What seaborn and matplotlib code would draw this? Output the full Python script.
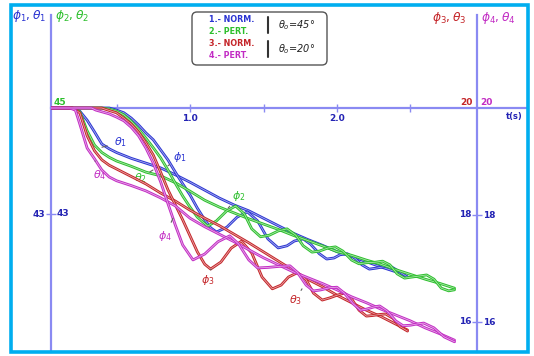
import matplotlib
matplotlib.use("Agg")
import numpy as np
import pandas as pd
import matplotlib.pyplot as plt
import matplotlib.patheffects as pe
from matplotlib.patches import FancyBboxPatch, Rectangle
from matplotlib.colors import to_rgb
import seaborn as sns

# ---------------- data (t in s, angles in degrees) ----------------
t_th1 = [0.054, 0.2, 0.25, 0.3, 0.35, 0.4, 0.45, 0.5, 0.6, 0.7, 0.8, 0.9, 1.0, 1.1, 1.2, 1.3,
         1.4, 1.5, 1.6, 1.7, 1.8, 1.9, 2.0, 2.1, 2.2, 2.3, 2.4, 2.48]
theta1 = [45.00, 45.00, 44.94, 44.77, 44.55, 44.32, 44.23, 44.16, 44.05, 43.96, 43.87, 43.74,
          43.60, 43.45, 43.30, 43.17, 43.06, 42.92, 42.78, 42.64, 42.52, 42.41, 42.29, 42.20,
          42.10, 42.00, 41.91, 41.81]

t_th2 = [0.054, 0.2, 0.25, 0.3, 0.35, 0.4, 0.45, 0.5, 0.6, 0.7, 0.8, 0.9, 1.0, 1.1, 1.2, 1.3,
         1.4, 1.5, 1.6, 1.7, 1.8, 1.9, 2.0, 2.1, 2.2, 2.3, 2.4, 2.5, 2.6, 2.7, 2.8]
theta2 = [45.00, 45.00, 44.93, 44.57, 44.30, 44.16, 44.07, 44.00, 43.90, 43.79, 43.72, 43.59,
          43.43, 43.26, 43.13, 43.02, 42.91, 42.81, 42.71, 42.60, 42.50, 42.40, 42.29, 42.22,
          42.13, 42.05, 41.95, 41.86, 41.77, 41.69, 41.60]

t_ph1 = [0.054, 0.45, 0.5, 0.55, 0.6, 0.65, 0.7, 0.75, 0.8, 0.85, 0.9, 0.95, 1.0, 1.05, 1.10,
         1.14, 1.18, 1.25, 1.32, 1.39, 1.46, 1.53, 1.60, 1.66, 1.71, 1.77, 1.82, 1.88, 1.93,
         1.98, 2.02, 2.07, 2.12, 2.17, 2.22, 2.27, 2.31, 2.36, 2.42, 2.48]
phi1 = [45.00, 45.00, 44.96, 44.91, 44.81, 44.68, 44.53, 44.40, 44.21, 44.02, 43.79, 43.57,
        43.36, 43.11, 42.89, 42.74, 42.66, 42.75, 42.94, 43.04, 42.87, 42.53, 42.36, 42.40,
        42.49, 42.53, 42.43, 42.25, 42.15, 42.17, 42.23, 42.25, 42.17, 42.04, 41.96, 41.98,
        42.00, 42.02, 41.92, 41.81]

t_ph2 = [0.054, 0.40, 0.45, 0.50, 0.55, 0.60, 0.65, 0.70, 0.75, 0.80, 0.85, 0.90, 0.95, 1.00,
         1.05, 1.12, 1.18, 1.25, 1.31, 1.37, 1.42, 1.48, 1.54, 1.60, 1.66, 1.72, 1.77, 1.83,
         1.88, 1.94, 1.99, 2.04, 2.10, 2.15, 2.20, 2.26, 2.31, 2.36, 2.41, 2.46, 2.51, 2.56,
         2.61, 2.66, 2.71, 2.76, 2.80]
phi2 = [45.00, 45.00, 44.98, 44.94, 44.87, 44.75, 44.60, 44.43, 44.25, 44.06, 43.83, 43.58,
        43.34, 43.13, 42.94, 42.77, 42.87, 43.06, 43.15, 43.00, 42.72, 42.57, 42.60, 42.68,
        42.72, 42.60, 42.40, 42.28, 42.30, 42.36, 42.38, 42.30, 42.13, 42.06, 42.08, 42.09,
        42.11, 42.04, 41.87, 41.79, 41.81, 41.83, 41.85, 41.77, 41.60, 41.55, 41.57]

t_th3 = [0.054, 0.2, 0.25, 0.3, 0.35, 0.4, 0.45, 0.5, 0.6, 0.7, 0.8, 0.9, 1.0, 1.1, 1.2, 1.3,
         1.4, 1.5, 1.6, 1.7, 1.8, 1.9, 2.0, 2.1, 2.2, 2.3, 2.4, 2.48]
theta3 = [20.00, 20.00, 19.91, 19.48, 19.20, 19.03, 18.93, 18.86, 18.72, 18.58, 18.41, 18.26,
          18.09, 17.94, 17.80, 17.64, 17.48, 17.31, 17.14, 16.97, 16.80, 16.66, 16.50, 16.36,
          16.22, 16.10, 15.96, 15.85]

t_th4 = [0.054, 0.18, 0.22, 0.25, 0.3, 0.35, 0.4, 0.45, 0.5, 0.6, 0.7, 0.8, 0.9, 1.0, 1.1,
         1.2, 1.3, 1.4, 1.5, 1.6, 1.7, 1.8, 1.9, 2.0, 2.1, 2.2, 2.3, 2.4, 2.5, 2.6, 2.7, 2.8]
theta4 = [20.00, 20.00, 19.96, 19.70, 19.25, 19.05, 18.84, 18.71, 18.64, 18.55, 18.45, 18.32,
          18.17, 17.94, 17.78, 17.64, 17.50, 17.35, 17.20, 17.07, 16.94, 16.83, 16.72, 16.60,
          16.47, 16.36, 16.24, 16.13, 16.02, 15.89, 15.78, 15.66]

t_ph3 = [0.054, 0.40, 0.42, 0.50, 0.55, 0.60, 0.65, 0.70, 0.75, 0.80, 0.85, 0.90, 0.95, 1.00,
         1.05, 1.10, 1.14, 1.21, 1.28, 1.35, 1.42, 1.49, 1.56, 1.62, 1.67, 1.73, 1.79, 1.84,
         1.90, 1.95, 2.00, 2.05, 2.10, 2.15, 2.20, 2.24, 2.29, 2.33, 2.38, 2.43, 2.48]
phi3 = [20.00, 20.00, 19.98, 19.91, 19.81, 19.70, 19.55, 19.35, 19.12, 18.80, 18.47, 18.19,
        17.91, 17.61, 17.31, 17.08, 16.99, 17.12, 17.38, 17.51, 17.29, 16.84, 16.62, 16.69,
        16.84, 16.92, 16.79, 16.54, 16.41, 16.45, 16.50, 16.54, 16.43, 16.22, 16.11, 16.12,
        16.14, 16.15, 16.07, 15.91, 15.83]

t_ph4 = [0.054, 0.33, 0.36, 0.45, 0.50, 0.55, 0.60, 0.65, 0.70, 0.75, 0.80, 0.85, 0.90, 0.95,
         1.02, 1.10, 1.19, 1.27, 1.33, 1.40, 1.46, 1.53, 1.61, 1.68, 1.73, 1.79, 1.84, 1.89,
         1.95, 2.00, 2.05, 2.11, 2.16, 2.20, 2.25, 2.29, 2.34, 2.40, 2.45, 2.50, 2.54, 2.59,
         2.66, 2.73, 2.80]
phi4 = [20.00, 20.00, 19.96, 19.89, 19.83, 19.76, 19.64, 19.48, 19.25, 18.97, 18.62, 18.21,
        17.81, 17.44, 17.16, 17.27, 17.50, 17.61, 17.46, 17.16, 17.01, 17.02, 17.04, 17.05,
        16.93, 16.69, 16.58, 16.60, 16.64, 16.65, 16.54, 16.34, 16.22, 16.24, 16.28, 16.30,
        16.21, 16.02, 15.93, 15.94, 15.96, 15.98, 15.89, 15.72, 15.63]

x_ticks = [0.5, 1.0, 1.5, 2.0, 2.5]
x_ticklabels = ["", "1.0", "", "2.0", ""]
legend_rows = ["1.- NORM.", "2.- PERT.", "3.- NORM.", "4.- PERT."]
legend_theta = [r"$\theta_o$=45°", r"$\theta_o$=20°"]

# ---------------- style ----------------
sns.set_theme(style="white")
plt.rcParams["font.family"] = ["DejaVu Sans"]
plt.rcParams["mathtext.fontset"] = "dejavusans"

BLUE = "#2a34d2"
GREEN = "#2cbf2c"
RED = "#c42428"
MAG = "#c22cc4"
AXC = "#8a8af2"
TXT = "#2323b4"
FRAME = "#00aeef"

W, H = 534, 356
fig = plt.figure(figsize=(W / 100, H / 100), dpi=100)
fig.patch.set_facecolor("white")

ax = fig.add_axes([51 / W, 1 - 352 / H, (527 - 51) / W, (352 - 15) / H])
ax.patch.set_alpha(0)
ax2 = ax.twinx()


def frame(t, v, name):
    return pd.DataFrame({"t": t, "angle": v, "curve": name})


df12 = pd.concat([frame(t_th1, theta1, "theta1"), frame(t_ph1, phi1, "phi1"),
                  frame(t_th2, theta2, "theta2"), frame(t_ph2, phi2, "phi2")])
df34 = pd.concat([frame(t_th3, theta3, "theta3"), frame(t_ph3, phi3, "phi3"),
                  frame(t_th4, theta4, "theta4"), frame(t_ph4, phi4, "phi4")])
pal = {"theta1": BLUE, "phi1": BLUE, "theta2": GREEN, "phi2": GREEN,
       "theta3": RED, "phi3": RED, "theta4": MAG, "phi4": MAG}

sns.lineplot(data=df12, x="t", y="angle", hue="curve", palette=pal, estimator=None,
             sort=False, legend=False, ax=ax)
sns.lineplot(data=df34, x="t", y="angle", hue="curve", palette=pal, estimator=None,
             sort=False, legend=False, ax=ax2)


def lighten(c, f=0.6):
    r, g, b = to_rgb(c)
    return (r + (1 - r) * f, g + (1 - g) * f, b + (1 - b) * f)


for a in (ax, ax2):
    for ln in a.get_lines():
        c = ln.get_color()
        ln.set_color(lighten(c))
        ln.set_linewidth(0.6)
        ln.set_zorder(3)
        ln.set_solid_joinstyle("round")
        ln.set_path_effects([pe.Stroke(linewidth=2.0, foreground=c, joinstyle="round"),
                             pe.Normal()])
    a.set_xlabel("")
    a.set_ylabel("")

ax.set_xlim(0.054, 3.293)
ax.set_ylim(40.396, 46.755)
ax2.set_ylim(15.439, 21.738)

# spines
for s in ("top", "right"):
    ax.spines[s].set_visible(False)
ax.spines["left"].set_color(AXC)
ax.spines["left"].set_linewidth(1.6)
ax.spines["bottom"].set_position(("data", 45))
ax.spines["bottom"].set_color(AXC)
ax.spines["bottom"].set_linewidth(1.6)
for s in ("top", "left", "bottom"):
    ax2.spines[s].set_visible(False)
ax2.spines["right"].set_position(("data", 2.95))
ax2.spines["right"].set_color(AXC)
ax2.spines["right"].set_linewidth(1.6)

tickfont = dict(fontsize=6.5, fontweight="bold")
ax.set_xticks(x_ticks)
ax.set_xticklabels(x_ticklabels, **tickfont)
ax.tick_params(axis="x", direction="inout", length=6, width=1, color=AXC,
               labelcolor=TXT, pad=1, bottom=True)
ax.set_yticks([43])
ax.set_yticklabels(["43"], **tickfont)
ax.tick_params(axis="y", direction="inout", length=7, width=1, color=AXC,
               labelcolor=TXT, pad=1, left=True)
ax2.set_yticks([16, 18])
ax2.set_yticklabels(["16", "18"], **tickfont)
ax2.tick_params(axis="y", direction="inout", length=7, width=1, color=AXC,
                labelcolor=TXT, pad=1, right=True)
ax.grid(False)
ax2.grid(False)

# secondary tick labels on the other side of each axis
ax.annotate("43", xy=(0, 43), xycoords=("axes fraction", "data"), xytext=(4, 0),
            textcoords="offset points", ha="left", va="center", color=TXT, **tickfont)
for v in (16, 18):
    ax2.annotate(str(v), xy=(2.95, v), xytext=(-4, 0), textcoords="offset points",
                 ha="right", va="center", color=TXT, **tickfont)
ax.annotate("45", xy=(0, 45), xycoords=("axes fraction", "data"), xytext=(2, 0.5),
            textcoords="offset points", ha="left", va="bottom", color=GREEN, **tickfont)
ax2.annotate("20", xy=(2.95, 20), xytext=(-2.5, 0.5), textcoords="offset points",
             ha="right", va="bottom", color=RED, **tickfont)
ax2.annotate("20", xy=(2.95, 20), xytext=(2.5, 0.5), textcoords="offset points",
             ha="left", va="bottom", color=MAG, **tickfont)
ax.annotate("t(s)", xy=(1, 45), xycoords=("axes fraction", "data"), xytext=(-3, -3),
            textcoords="offset points", ha="right", va="top", color=TXT,
            fontsize=6, fontweight="bold")

# curve labels with leader lines
lead = dict(arrowstyle="-", color="#606060", lw=0.8, shrinkA=3, shrinkB=0)
ax.annotate(r"$\theta_1$", xy=(0.401, 44.26), xytext=(0.53, 44.36), color=BLUE,
            fontsize=8, ha="center", va="center", arrowprops=lead)
ax.annotate(r"$\phi_1$", xy=(0.85, 43.91), xytext=(0.93, 44.08), color=BLUE,
            fontsize=8, ha="center", va="center", arrowprops=lead)
ax.annotate(r"$\theta_2$", xy=(0.748, 43.83), xytext=(0.66, 43.68), color=GREEN,
            fontsize=8, ha="center", va="center", arrowprops=lead)
ax.annotate(r"$\phi_2$", xy=(1.259, 43.11), xytext=(1.33, 43.34), color=GREEN,
            fontsize=8, ha="center", va="center", arrowprops=lead)
ax2.annotate(r"$\theta_4$", xy=(0.354, 19.01), xytext=(0.385, 18.74), color=MAG,
             fontsize=8, ha="center", va="center", arrowprops=lead)
ax2.annotate(r"$\phi_4$", xy=(0.884, 17.94), xytext=(0.83, 17.60), color=MAG,
             fontsize=8, ha="center", va="center", arrowprops=lead)
ax2.annotate(r"$\phi_3$", xy=(1.143, 16.99), xytext=(1.12, 16.78), color=RED,
             fontsize=8, ha="center", va="center", arrowprops=lead)
ax2.annotate(r"$\theta_3$", xy=(1.762, 16.62), xytext=(1.715, 16.40), color=RED,
             fontsize=8, ha="center", va="center", arrowprops=lead)

# ---------------- overlay in pixel coordinates ----------------
ov = fig.add_axes([0, 0, 1, 1], zorder=5)
ov.set_xlim(0, W)
ov.set_ylim(H, 0)
ov.set_axis_off()

ov.add_patch(Rectangle((11, 5), 517, 347, fill=False, edgecolor=FRAME, lw=2.6))

ov.text(12, 16, r"$\phi_1,\theta_1$", color=BLUE, fontsize=8.8, ha="left", va="center")
ov.text(55, 16, r"$\phi_2,\theta_2$", color=GREEN, fontsize=8.8, ha="left", va="center")
ov.text(432, 18, r"$\phi_3,\theta_3$", color=RED, fontsize=8.8, ha="left", va="center")
ov.text(481, 18, r"$\phi_4,\theta_4$", color=MAG, fontsize=8.8, ha="left", va="center")

ov.add_patch(FancyBboxPatch((192, 12), 135, 53, boxstyle="round,pad=0,rounding_size=5",
                            fill=False, edgecolor="#555555", lw=1.0))
row_colors = [BLUE, GREEN, RED, MAG]
row_y = [19, 31, 43, 55]
for txt, c, y in zip(legend_rows, row_colors, row_y):
    ov.text(209, y, txt, color=c, fontsize=5.8, fontweight="bold", ha="left", va="center")
ov.plot([268, 268], [17, 33], color="#333333", lw=1.5)
ov.plot([268, 268], [41, 57], color="#333333", lw=1.5)
ov.text(278, 25, legend_theta[0], color="#222222", fontsize=7, ha="left", va="center",
        style="italic")
ov.text(278, 49, legend_theta[1], color="#222222", fontsize=7, ha="left", va="center",
        style="italic")

fig.savefig("out.png", dpi=100, facecolor="white")
